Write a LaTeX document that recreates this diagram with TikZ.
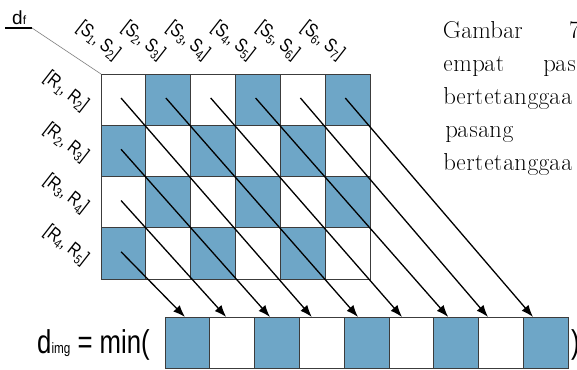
\documentclass[tikz,border=0pt]{standalone}
\usepackage[T1]{fontenc}
\usepackage{fontspec}
\usetikzlibrary{arrows.meta,calc}
\newfontfamily\lblfont{Liberation Sans}
\newcommand\palfont{\fontencoding{T1}\fontfamily{qpl}\selectfont}
\newcommand\subsc[1]{\raisebox{-3.5pt}{\fontsize{13}{13}\selectfont #1}}
\newcommand\labtxt[4]{\scalebox{0.8}[1]{\lblfont\fontsize{19}{19}\selectfont[#1\subsc{#2}, #3\subsc{#4}]}}
\definecolor{cellblue}{RGB}{110,166,199}
\definecolor{edgegray}{RGB}{60,60,60}
\begin{document}
\begin{tikzpicture}[x=1pt,y=-1pt,
  cell/.style={draw=edgegray, line width=1pt, minimum width=44.85pt, minimum height=51.25pt, inner sep=0pt, outer sep=0pt},
  bcell/.style={draw=edgegray, line width=1pt, minimum width=44.8pt, minimum height=51pt, inner sep=0pt, outer sep=0pt},
  arr/.style={line width=1.3pt, -{Latex[length=12pt,width=9pt]}},
  lab/.style={inner sep=0pt, rotate=-38},
  txt/.style={inner sep=0pt, anchor=base west, font=\palfont\fontsize{25}{30}\selectfont}]
\useasboundingbox (0,0) rectangle (577,369);
\clip (0,0) rectangle (577,369);
% grid
\foreach \r in {1,...,4}{
  \foreach \c in {1,...,6}{
    \pgfmathtruncatemacro\p{mod(\r+\c,2)}
    \ifnum\p=1 \def\cc{cellblue}\else\def\cc{white}\fi
    \node[cell, fill=\cc] (g\r\c) at ({101+(\c-0.5)*44.85},{74+(\r-0.5)*51.25}) {};
  }
}
% bar
\foreach \k in {1,...,9}{
  \pgfmathtruncatemacro\p{mod(\k,2)}
  \ifnum\p=1 \def\cc{cellblue}\else\def\cc{white}\fi
  \node[bcell, fill=\cc] (b\k) at ({165+(\k-0.5)*44.8},342.5) {};
}
% arrows
\foreach \r/\c/\k/\d in {4/1/1/-2.4, 3/1/2/-6, 2/1/3/-7, 1/1/4/-10, 1/2/5/-8.6, 1/3/6/-9.4, 1/4/7/-8, 1/5/8/-13, 1/6/9/-12.8}{
  \draw[arr] ($(g\r\c.north west)+(20,24)$) -- ($(b\k.north)+(\d,0)$);
}
% column labels
\foreach \c/\a/\b in {1/1/2, 2/2/3, 3/3/4, 4/4/5, 5/5/6, 6/6/7}{
  \node[lab] (s\c) at ({101+(\c-0.5)*44.85-25},41) {\labtxt{S}{\a}{S}{\b}};
}
% row labels
\foreach \r/\a/\b in {1/1/2, 2/2/3, 3/3/4, 4/4/5}{
  \node[lab] (r\r) at (66,{74+(\r-0.5)*51.25-8}) {\labtxt{R}{\a}{R}{\b}};
}
% d_f
\node[inner sep=0pt, anchor=base west] (df) at (12,25) {\lblfont\fontsize{19}{19}\selectfont d{\fontsize{12}{12}\selectfont f}};
\coordinate (u1) at (5,28);
\coordinate (u2) at (32,28);
\draw[line width=1.3pt] (u1) -- (u2);
\draw[gray, line width=0.6pt] (u2) -- (g11.north west);
% d_img = min(
\node[inner sep=0pt, anchor=base west] (dimg) at (37,353) {\scalebox{0.78}[1]{\lblfont\fontsize{33}{33}\selectfont d{\fontsize{15}{15}\selectfont img} = min(}};
\node[inner sep=0pt, anchor=base west] (close) at (571,353) {\scalebox{0.78}[1]{\lblfont\fontsize{33}{33}\selectfont )}};
% paragraph
\node[txt] (t1) at (443,38) {Gambar};
\node[txt] (t1b) at (569,38) {7};
\node[txt] (t2) at (443,71) {empat};
\node[txt] (t2b) at (543,71) {pas};
\node[txt] (t3) at (443,104) {bertetanggaa};
\node[txt] (t4) at (445,137) {pasang};
\node[txt] (t5) at (443,170) {bertetanggaa};
\end{tikzpicture}
\end{document}
